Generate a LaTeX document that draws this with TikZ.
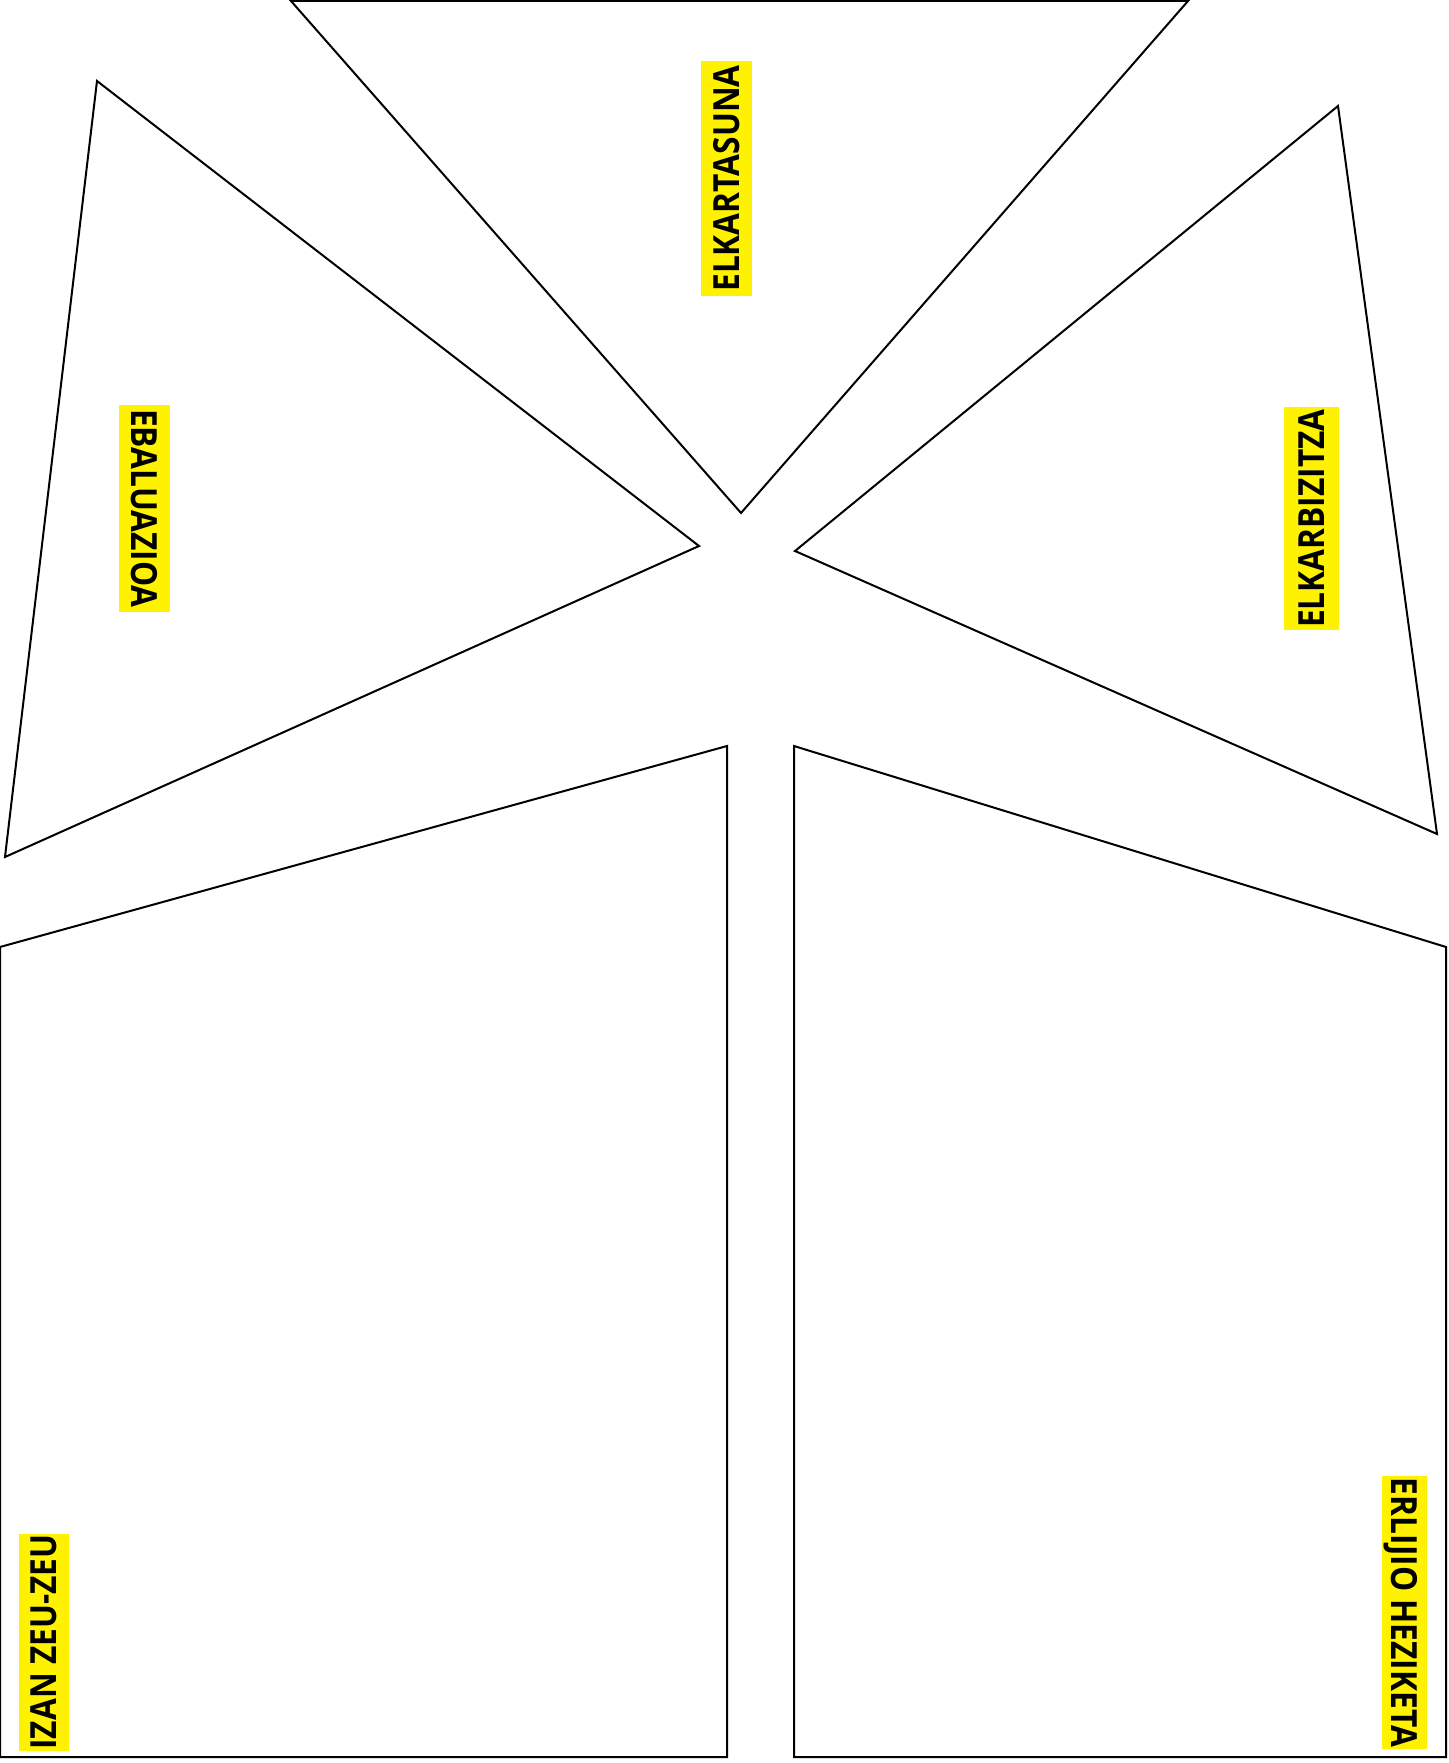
\documentclass[tikz,border=0pt]{standalone}
\usepackage{fontspec}
\setmainfont{Open Sans}
\newfontfamily\tagfont[FakeStretch=0.88]{Open Sans}
\begin{document}
\begin{tikzpicture}[x=1pt,y=-1pt,
  outl/.style={draw=black,line width=2pt,line join=miter},
  tag/.style={fill=yellow,inner sep=0pt,font=\tagfont\fontsize{36}{36}\selectfont\bfseries,
    text height=25.5pt,text depth=0pt,align=center}]
\useasboundingbox (0,0) rectangle (1448,1763);
% triangles
\draw[outl] (291,1) -- (1188,1) -- (741,513) -- cycle;
\draw[outl] (97,81) -- (699,546) -- (5,857) -- cycle;
\draw[outl] (1338,106) -- (795,551) -- (1437,834) -- cycle;
% pentagons
\draw[outl] (0,947) -- (727,746) -- (727,1757) -- (0,1757) -- cycle;
\draw[outl] (794,746) -- (1446,947) -- (1446,1757) -- (794,1757) -- cycle;
% labels
\node[tag,rotate=90,minimum width=235pt,minimum height=51pt] (l1) at (726.5,178.5) {ELKARTASUNA};
\node[tag,rotate=-90,minimum width=207pt,minimum height=51pt] (l2) at (144.5,508.5) {EBALUAZIOA};
\node[tag,rotate=90,minimum width=223pt,minimum height=55pt] (l3) at (1311.5,518.5) {ELKARBIZITZA};
\node[tag,rotate=90,minimum width=217pt,minimum height=50pt] (l4) at (44,1642) {IZAN ZEU-ZEU};
\node[tag,rotate=-90,minimum width=273pt,minimum height=45pt] (l5) at (1404.5,1612.5) {ERLIJIO HEZIKETA};
\end{tikzpicture}
\end{document}
